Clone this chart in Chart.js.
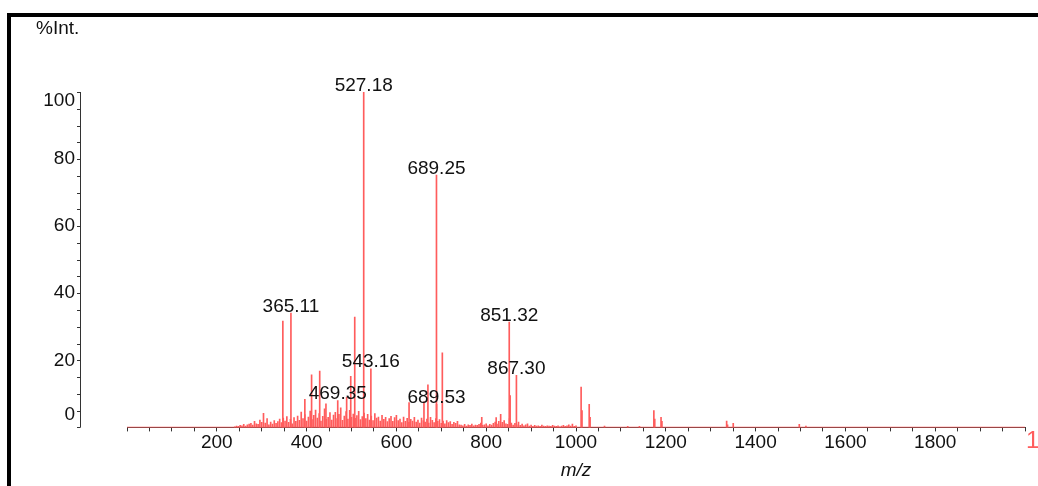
<!DOCTYPE html>
<html lang="en">
<head>
  <meta charset="UTF-8">
  <title>%Int. vs m/z</title>
  <script src="https://cdn.jsdelivr.net/npm/chart.js"></script>
  <style>
    body {
      margin: 0;
      background: #fff;
      overflow: hidden;
      font-family: "Liberation Sans", Arial, sans-serif;
    }
    #wrap {
      position: relative;
      width: 1038px;
      height: 486px;
      overflow: hidden;
    }
    #frame {
      position: absolute;
      left: 7px;
      top: 13px;
      width: 2000px;
      height: 1000px;
      border-left: 4px solid #000;
      border-top: 4px solid #000;
    }
    canvas {
      position: absolute;
      left: 0;
      top: 0;
    }
  </style>
</head>
<body>
  <div id="wrap">
    <div id="frame"></div>
    <canvas id="grafico" width="1038" height="486"></canvas>
  </div>

  <script>
    // main peaks (m/z, %Int)
    const peakMz  = [347.1, 365.11, 396.1, 411.1, 429.2, 443.1, 469.35, 489.2, 498.3, 507.2, 527.18, 543.16,
                     628.2, 661.4, 670.2, 689.25, 689.53, 702.3, 790.1, 822.2, 832.2, 851.32, 853.3, 867.30,
                     1011.4, 1013.4, 1029.4, 1031.4, 1063.5, 1115.2, 1141.3, 1173.4, 1175.4, 1189.4, 1191.4,
                     1335.5, 1337.5, 1350.2, 1497.3, 1512.1];
    const peakInt = [31.7, 34.1, 8.4, 15.7, 16.8, 7.0, 8.0, 9.0, 15.2, 32.9, 100, 17.5,
                     7.4, 7.6, 12.7, 75.2, 6.9, 22.2, 3.0, 2.9, 3.9, 31.4, 9.5, 15.5,
                     12.0, 5.0, 6.9, 3.0, 0.4, 0.3, 0.3, 5.0, 2.5, 3.0, 1.8,
                     1.9, 0.8, 1.2, 0.9, 0.4];

    // low level signals, one value every 4 m/z from 240 to 1000
    const noiseInt = [
      0.2, 0.4, 0.3, 0.6, 0.5, 0.9, 0.4, 0.8, 1.0,
      1.2, 0.7, 1.8, 1.1, 0.9, 2.2, 1.5, 4.2,
      1.3, 2.6, 0.8, 1.6, 1.0, 2.0, 1.2, 1.7, 2.5,
      1.4, 2.8, 1.9, 3.2, 1.5, 2.4, 1.1, 2.9, 1.8, 3.4,
      2.1, 4.6, 2.6, 3.8, 1.9, 3.1, 4.9, 2.3, 3.6, 5.2,
      2.8, 4.1, 1.9, 3.3, 5.5, 2.4, 3.0, 4.4, 2.2, 3.7,
      4.5, 2.6, 3.9, 5.8, 2.1, 3.4, 4.7, 2.5, 5.1, 3.0,
      4.0, 2.7, 3.5, 4.8, 2.3, 3.2, 4.3, 2.6, 3.9, 2.2,
      3.4, 2.0, 4.1, 2.8, 3.1, 1.9, 3.6, 2.4, 3.0, 1.7,
      2.6, 3.3, 1.8, 2.9, 3.6, 2.0, 2.5, 1.4, 3.1, 1.8,
      2.7, 1.5, 2.4, 1.9, 3.0, 1.6, 2.2, 1.3, 2.8, 2.0,
      1.6, 2.5, 1.3, 3.0, 2.1, 1.4, 2.6, 1.8, 2.3, 1.2,
      1.9, 1.1, 2.0, 1.4, 1.7, 0.9, 1.5, 1.2, 1.8, 0.8,
      0.7, 0.5, 0.9, 0.4, 0.8, 0.6, 1.0, 0.5, 0.7, 0.6,
      0.9, 1.3, 0.6, 0.8, 1.1, 0.5, 0.9, 0.7, 1.2, 1.6,
      1.0, 1.8, 0.8, 1.5, 2.0, 1.1, 0.9, 2.6, 1.3, 0.7,
      1.2, 0.8, 1.6, 0.6, 1.0, 0.5, 0.8, 1.1, 0.4, 0.7,
      0.3, 0.6, 0.4, 0.5, 0.3, 0.7, 0.4, 0.3, 0.5, 0.4,
      0.3, 0.6, 0.4, 0.3, 0.5, 0.2, 0.4, 0.6, 0.3, 0.5,
      0.8, 0.4, 1.0, 0.3, 0.5
    ];
    const noiseMz = noiseInt.map((v, i) => 240 + 4 * i);

    const labelMz = [527.18, 689.25, 365.11, 543.16, 469.35, 689.53, 851.32, 867.30];
    const baselineMz = [0, 2000];
    const xLabelValues = [200, 400, 600, 800, 1000, 1200, 1400, 1600, 1800];
    const yLabelValues = [0, 20, 40, 60, 80, 100];

    const RED = '#ff5c5c';
    const FONT = '"Liberation Sans", Arial, sans-serif';

    const spectrum = noiseMz.map((m, i) => ({ x: m, y: noiseInt[i] }))
      .concat(peakMz.map((m, i) => ({ x: m, y: peakInt[i] })));

    // y axis sits left of the plot like the instrument printout
    const extras = {
      id: 'extras',
      afterDraw(chart) {
        const c = chart.ctx;
        const ys = chart.scales.y, xs = chart.scales.x;
        const ax = 80;
        c.save();
        c.strokeStyle = '#333';
        c.lineWidth = 1;
        c.beginPath();
        c.moveTo(ax + 0.5, ys.getPixelForValue(0));
        c.lineTo(ax + 0.5, ys.getPixelForValue(100));
        for (let v = 0; v <= 100; v += 5) {
          const py = Math.round(ys.getPixelForValue(v)) + 0.5;
          c.moveTo(ax + 0.5, py);
          c.lineTo(ax - 3, py);
        }
        c.stroke();

        c.fillStyle = '#111';
        c.font = '19px ' + FONT;
        c.textAlign = 'right';
        c.textBaseline = 'middle';
        yLabelValues.forEach(v => {
          let py = ys.getPixelForValue(v);
          if (v === 0) py -= 13;
          if (v === 100) py += 9;
          c.fillText(String(v), ax - 5, py);
        });

        c.textAlign = 'left';
        c.fillText('%Int.', 36, 29);

        // peak labels
        c.textAlign = 'center';
        c.textBaseline = 'alphabetic';
        labelMz.forEach(m => {
          const i = peakMz.indexOf(m);
          c.fillText(m.toFixed(2), xs.getPixelForValue(m), ys.getPixelForValue(peakInt[i]) - 1.5);
        });

        c.fillStyle = RED;
        c.font = '24px ' + FONT;
        c.textAlign = 'left';
        c.textBaseline = 'middle';
        c.fillText('1]', 1026, 441);
        c.restore();
      }
    };

    const ctx = document.getElementById('grafico').getContext('2d');
    const chart = new Chart(ctx, {
      type: 'bar',
      data: {
        datasets: [{
          type: 'line',
          data: baselineMz.map(m => ({ x: m, y: 0 })),
          borderColor: RED,
          borderWidth: 1.2,
          pointRadius: 0
        }, {
          data: spectrum,
          backgroundColor: RED,
          borderWidth: 0,
          barThickness: 1
        }]
      },
      options: {
        responsive: false,
        animation: false,
        events: [],
        layout: { padding: { left: 127, right: 13, top: 92, bottom: 2 } },
        plugins: {
          legend: { display: false },
          tooltip: { enabled: false }
        },
        scales: {
          x: {
            type: 'linear',
            min: 0,
            max: 2000,
            offset: false,
            afterBuildTicks(scale) {
              const t = [];
              for (let v = 0; v <= 2000; v += 50) t.push({ value: v });
              scale.ticks = t;
            },
            ticks: {
              autoSkip: false,
              maxRotation: 0,
              padding: 0,
              color: '#111',
              font: { family: FONT, size: 19 },
              callback: v => xLabelValues.includes(v) ? String(v) : ''
            },
            grid: {
              offset: false,
              drawOnChartArea: false,
              tickLength: 4,
              color: '#333'
            },
            border: { color: '#333', width: 1 },
            title: {
              display: true,
              text: 'm/z',
              color: '#111',
              padding: { top: 5, bottom: 2 },
              font: { family: FONT, size: 19, style: 'italic' }
            }
          },
          y: {
            display: false,
            min: 0,
            max: 100
          }
        }
      },
      plugins: [extras]
    });
  </script>
</body>
</html>
